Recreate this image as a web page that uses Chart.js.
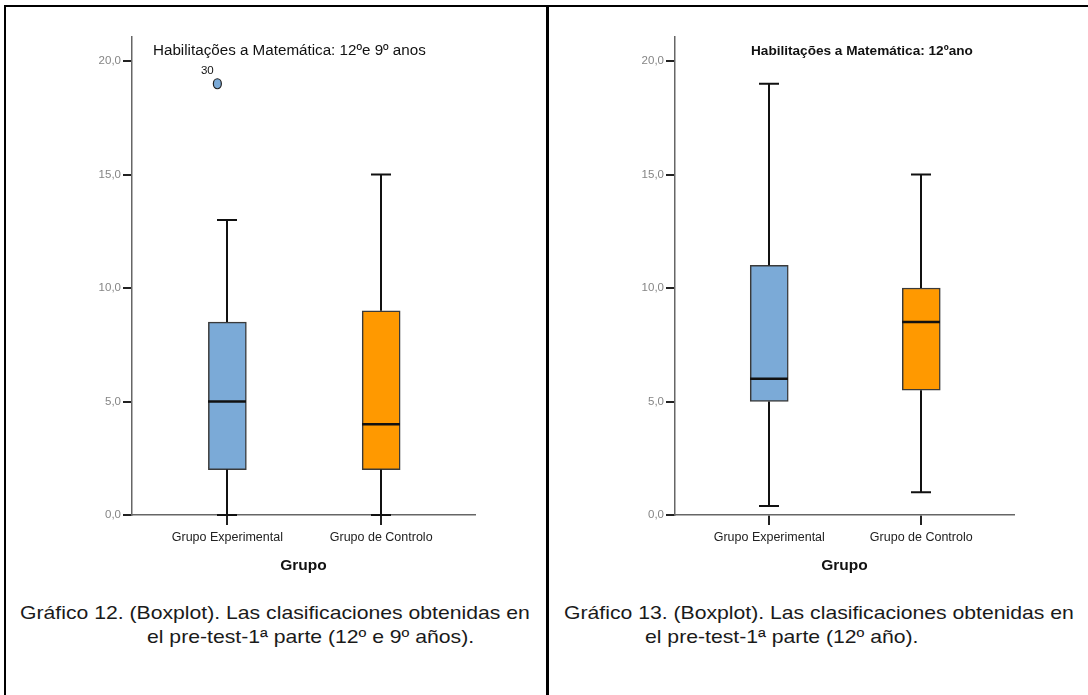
<!DOCTYPE html>
<html>
<head>
<meta charset="utf-8">
<script src="https://cdn.jsdelivr.net/npm/chart.js@4/dist/chart.umd.min.js"></script>
<style>
  body { margin: 0; background: #fff; width: 1088px; height: 695px; position: relative; overflow: hidden;
         font-family: "Liberation Sans", Arial, sans-serif; }
  .rule { position: absolute; background: #000; }
  .panel { position: absolute; top: 0; height: 600px; }
  .caption { position: absolute; font-size: 19px; color: #1a1a1a; white-space: nowrap; line-height: 22px;
             transform: scaleX(1.115); transform-origin: left center; }
</style>
</head>
<body>
<div class="rule" style="left:4px;top:5px;width:1084px;height:2px"></div>
<div class="rule" style="left:4px;top:5px;width:2px;height:690px"></div>
<div class="rule" style="left:546px;top:5px;width:3px;height:690px"></div>

<div class="panel" style="left:0;width:548px"><canvas id="boxA"></canvas></div>
<div class="panel" style="left:548px;width:540px"><canvas id="boxB"></canvas></div>

<div class="caption" style="left:20px;top:602px">Gráfico 12. (Boxplot). Las clasificaciones obtenidas en</div>
<div class="caption" style="left:147px;top:626px">el pre-test-1ª parte (12º e 9º años).</div>
<div class="caption" style="left:564px;top:602px">Gráfico 13. (Boxplot). Las clasificaciones obtenidas en</div>
<div class="caption" style="left:645px;top:626px">el pre-test-1ª parte (12º año).</div>

<script>
// groups on the x axis
var groups = ['Grupo Experimental', 'Grupo de Controlo'];
var boxColors = ['#7BAAD7', '#FF9900'];
var yTicks = [0, 5, 10, 15, 20];

// 12º e 9º anos
var minA = [0, 0];
var q1A = [2, 2];
var medA = [5, 4];
var q3A = [8.5, 9];
var maxA = [13, 15];
var outGroupA = [0];
var outValA = [19];
var outCaseA = ['30'];

// 12º ano
var minB = [0.4, 1];
var q1B = [5, 5.5];
var medB = [6, 8.5];
var q3B = [11, 10];
var maxB = [19, 15];

// whiskers, medians, outliers and the inner title
var boxplotExtras = {
  id: 'boxplotExtras',
  afterDatasetsDraw: function (chart, args, opts) {
    var ctx = chart.ctx;
    var xs = chart.scales.x, ys = chart.scales.y;
    var area = chart.chartArea;
    ctx.save();
    ctx.strokeStyle = '#111';
    for (var i = 0; i < groups.length; i++) {
      var cx = Math.round(xs.getPixelForValue(i));
      var half = 19;
      ctx.lineWidth = 2;
      ctx.beginPath();
      ctx.moveTo(cx, ys.getPixelForValue(opts.q3[i]));
      ctx.lineTo(cx, ys.getPixelForValue(opts.max[i]));
      ctx.moveTo(cx, ys.getPixelForValue(opts.q1[i]));
      ctx.lineTo(cx, ys.getPixelForValue(opts.min[i]));
      ctx.moveTo(cx - 10, ys.getPixelForValue(opts.max[i]));
      ctx.lineTo(cx + 10, ys.getPixelForValue(opts.max[i]));
      ctx.moveTo(cx - 10, ys.getPixelForValue(opts.min[i]));
      ctx.lineTo(cx + 10, ys.getPixelForValue(opts.min[i]));
      ctx.stroke();
      ctx.lineWidth = 2.5;
      ctx.beginPath();
      ctx.moveTo(cx - half, ys.getPixelForValue(opts.med[i]));
      ctx.lineTo(cx + half, ys.getPixelForValue(opts.med[i]));
      ctx.stroke();
    }
    // outliers sit a little left of the whisker, case number above
    var outs = opts.outGroup || [];
    for (var k = 0; k < outs.length; k++) {
      var ox = xs.getPixelForValue(outs[k]) - 10;
      var oy = ys.getPixelForValue(opts.outVal[k]);
      ctx.beginPath();
      ctx.ellipse(ox, oy, 4, 5, 0, 0, Math.PI * 2);
      ctx.fillStyle = boxColors[outs[k]];
      ctx.fill();
      ctx.lineWidth = 1.2;
      ctx.strokeStyle = '#222';
      ctx.stroke();
      ctx.fillStyle = '#111';
      ctx.font = '11.5px "Liberation Sans", Arial, sans-serif';
      ctx.textAlign = 'center';
      ctx.textBaseline = 'middle';
      ctx.fillText(opts.outCase[k], ox - 10, oy - 13);
    }
    ctx.fillStyle = '#111';
    ctx.font = opts.titleFont;
    ctx.textAlign = 'left';
    ctx.textBaseline = 'middle';
    ctx.fillText(opts.title, area.left + opts.titleDx, 51);
    ctx.restore();
  }
};

function makeBoxplot(id, st, pad) {
  var boxes = [];
  for (var i = 0; i < groups.length; i++) {
    boxes.push({ x: i, y: [st.q1[i], st.q3[i]] });
  }
  return new Chart(document.getElementById(id), {
    type: 'bar',
    data: {
      datasets: [{
        data: boxes,
        backgroundColor: boxColors,
        borderColor: '#3a3a3a',
        borderWidth: 1.5,
        borderSkipped: false,
        barThickness: 38
      }]
    },
    plugins: [boxplotExtras],
    options: {
      responsive: true,
      maintainAspectRatio: false,
      animation: false,
      layout: { padding: pad },
      plugins: {
        legend: { display: false },
        tooltip: { enabled: false },
        boxplotExtras: st
      },
      scales: {
        x: {
          type: 'linear',
          min: -0.62,
          max: 1.61,
          offset: false,
          afterBuildTicks: function (s) { s.ticks = groups.map(function (g, i) { return { value: i }; }); },
          afterFit: function (s) { s.height = 70; },
          ticks: {
            callback: function (v) { return groups[v]; },
            color: '#222',
            padding: 5,
            maxRotation: 0,
            font: { family: 'Liberation Sans', size: 12.5 }
          },
          grid: { drawOnChartArea: false, offset: false, tickLength: 10, color: '#222', lineWidth: 2 },
          border: { color: '#666', width: 1.5 },
          title: {
            display: true,
            text: 'Grupo',
            color: '#111',
            padding: { top: 0, bottom: 10 },
            font: { family: 'Liberation Sans', size: 15.5, weight: 'bold' }
          }
        },
        y: {
          min: 0,
          max: 21.06,
          afterBuildTicks: function (s) { s.ticks = yTicks.map(function (v) { return { value: v }; }); },
          afterFit: function (s) { s.width = 60; },
          ticks: {
            callback: function (v) { return v.toFixed(1).replace('.', ','); },
            color: '#858585',
            padding: 2,
            font: { family: 'Liberation Sans', size: 11.5 }
          },
          grid: { drawOnChartArea: false, tickLength: 9, color: '#222', lineWidth: 2 },
          border: { color: '#666', width: 1.5 }
        }
      }
    }
  });
}

makeBoxplot('boxA', {
  min: minA, q1: q1A, med: medA, q3: q3A, max: maxA,
  outGroup: outGroupA, outVal: outValA, outCase: outCaseA,
  title: 'Habilitações a Matemática: 12ºe 9º anos',
  titleFont: '15.2px "Liberation Sans", Arial, sans-serif',
  titleDx: 21
}, { left: 72, right: 73, top: 37, bottom: 15 });

makeBoxplot('boxB', {
  min: minB, q1: q1B, med: medB, q3: q3B, max: maxB,
  title: 'Habilitações a Matemática: 12ºano',
  titleFont: 'bold 13.6px "Liberation Sans", Arial, sans-serif',
  titleDx: 76
}, { left: 67, right: 74, top: 37, bottom: 15 });
</script>
</body>
</html>
